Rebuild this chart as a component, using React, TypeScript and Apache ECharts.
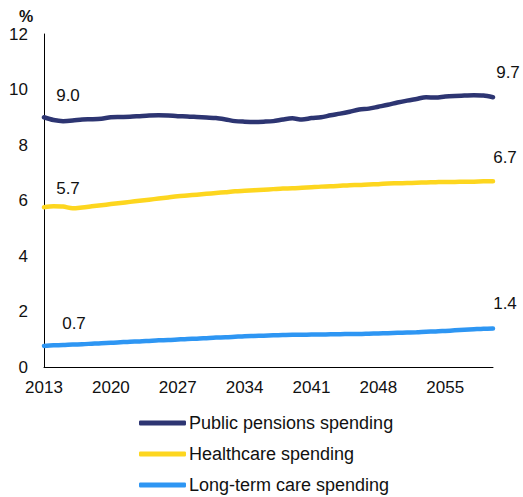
import React, { useEffect, useRef } from "react";
import * as echarts from "echarts";

const years: string[] = [];
for (let y = 2013; y <= 2060; y++) years.push(String(y));

const pensions = [
  9.0, 8.9, 8.86, 8.88, 8.92, 8.93, 8.95, 9.0, 9.01, 9.02, 9.04, 9.06, 9.07,
  9.06, 9.04, 9.03, 9.01, 8.99, 8.97, 8.92, 8.86, 8.84, 8.83, 8.84, 8.86, 8.92,
  8.96, 8.92, 8.97, 9.0, 9.07, 9.13, 9.2, 9.28, 9.31, 9.38, 9.45, 9.53, 9.6,
  9.66, 9.72, 9.71, 9.75, 9.77, 9.78, 9.79, 9.78, 9.72,
];

const healthcare = [
  5.76, 5.79, 5.78, 5.72, 5.75, 5.79, 5.83, 5.87, 5.91, 5.95, 5.99, 6.03, 6.07,
  6.11, 6.15, 6.18, 6.21, 6.24, 6.27, 6.3, 6.33, 6.35, 6.37, 6.39, 6.41, 6.43,
  6.44, 6.46, 6.48, 6.5, 6.51, 6.53, 6.55, 6.56, 6.58, 6.59, 6.61, 6.62, 6.63,
  6.64, 6.65, 6.66, 6.67, 6.67, 6.68, 6.68, 6.69, 6.69,
];

const longTermCare = [
  0.76, 0.78, 0.79, 0.81, 0.82, 0.84, 0.86, 0.87, 0.89, 0.91, 0.92, 0.94, 0.96,
  0.97, 0.99, 1.01, 1.02, 1.04, 1.06, 1.07, 1.09, 1.11, 1.12, 1.13, 1.14, 1.15,
  1.16, 1.16, 1.17, 1.17, 1.18, 1.18, 1.19, 1.19, 1.2, 1.21, 1.22, 1.23, 1.24,
  1.25, 1.27, 1.28, 1.3, 1.32, 1.34, 1.36, 1.38, 1.39,
];

// labels shown on first and last points
const startLabels = ["9.0", "5.7", "0.7"];
const endLabels = ["9.7", "6.7", "1.4"];

const FONT = "Liberation Sans, Arial, sans-serif";

const makeData = (
  values: number[],
  first: string,
  last: string,
  firstOffset: number[],
  lastOffset: number[]
) =>
  values.map((v, i) => {
    if (i === 0 || i === values.length - 1) {
      const isFirst = i === 0;
      return {
        value: v,
        label: {
          show: true,
          position: "top",
          offset: isFirst ? firstOffset : lastOffset,
          formatter: isFirst ? first : last,
          color: "#111",
          fontSize: 17,
          fontFamily: FONT,
        },
      };
    }
    return v;
  });

const App = () => {
  const chartRef = useRef<HTMLDivElement>(null);

  useEffect(() => {
    if (!chartRef.current) return;
    const chart = echarts.init(chartRef.current, null, { renderer: "svg" });

    const lineSeries = (
      name: string,
      color: string,
      data: any[]
    ) => ({
      name,
      type: "line",
      data,
      symbol: "circle",
      symbolSize: 1,
      showSymbol: true,
      smooth: 0.3,
      itemStyle: { color },
      lineStyle: { color, width: 4.5, cap: "round" },
      emphasis: { disabled: true },
    });

    chart.setOption({
      animation: false,
      backgroundColor: "#fff",
      textStyle: { fontFamily: FONT },
      grid: { left: 44, right: 30, top: 34, bottom: 130 },
      graphic: [
        {
          type: "text",
          left: 19,
          top: 8,
          style: {
            text: "%",
            fontSize: 16,
            fontWeight: "bold",
            fontFamily: FONT,
            fill: "#111",
          },
        },
      ],
      legend: {
        orient: "vertical",
        left: 139,
        top: 414,
        height: 100,
        padding: 0,
        icon: "roundRect",
        itemWidth: 47,
        itemHeight: 5,
        itemGap: 13,
        textStyle: { fontSize: 18, color: "#111", fontFamily: FONT, padding: [0, 0, 0, -2] },
        data: [
          "Public pensions spending",
          "Healthcare spending",
          "Long-term care spending",
        ],
      },
      xAxis: {
        type: "category",
        data: years,
        boundaryGap: false,
        axisLine: { lineStyle: { color: "#000", width: 1 } },
        axisTick: { show: false },
        axisLabel: {
          interval: 6,
          color: "#111",
          fontSize: 17,
          margin: 12,
          fontFamily: FONT,
        },
        splitLine: { show: false },
      },
      yAxis: {
        type: "value",
        min: 0,
        max: 12,
        interval: 2,
        axisLine: { show: true, lineStyle: { color: "#000", width: 1 } },
        axisTick: { show: false },
        axisLabel: { color: "#111", fontSize: 17, margin: 16, fontFamily: FONT },
        splitLine: { show: false },
      },
      series: [
        lineSeries(
          "Public pensions spending",
          "#2D3572",
          makeData(pensions, startLabels[0], endLabels[0], [24, -8], [15, -11])
        ),
        lineSeries(
          "Healthcare spending",
          "#FDD61F",
          makeData(healthcare, startLabels[1], endLabels[1], [24, -5], [12, -10])
        ),
        lineSeries(
          "Long-term care spending",
          "#2E96F3",
          makeData(longTermCare, startLabels[2], endLabels[2], [30, -8], [12, -11])
        ),
      ],
    });

    return () => {
      chart.dispose();
    };
  }, []);

  return (
    <div
      ref={chartRef}
      style={{ position: "absolute", left: 0, top: 0, width: 523, height: 497 }}
    />
  );
};

export default App;
